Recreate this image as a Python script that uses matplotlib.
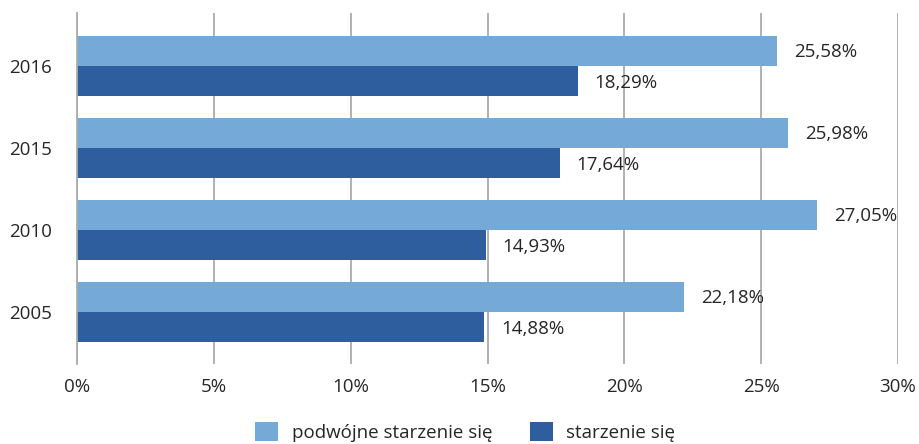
import numpy as np
import matplotlib
matplotlib.use("Agg")
from matplotlib import pyplot as plt

years = ["2005", "2010", "2015", "2016"]
double_ageing = [22.18, 27.05, 25.98, 25.58]
ageing = [14.88, 14.93, 17.64, 18.29]
series_names = ["podwójne starzenie się", "starzenie się"]

light = "#75A9D8"
dark = "#2E5E9E"
grid_c = "#ABABAB"
txt_c = "#262626"
fs = 13.5

plt.rcParams['font.family'] = ['Open Sans', 'DejaVu Sans']

fig = plt.figure(figsize=(9.19, 4.44), dpi=100)
ax = fig.add_axes([77/919, 80/444, 821/919, 351/444])

y = np.arange(len(years))
h = 0.37
b1 = ax.barh(y + h/2, double_ageing, height=h, color=light, label=series_names[0])
b2 = ax.barh(y - h/2, ageing, height=h, color=dark, label=series_names[1])

for bars, vals in ((b1, double_ageing), (b2, ageing)):
    for r, v in zip(bars, vals):
        ax.annotate(f"{v:.2f}%".replace(".", ","), (v, r.get_y() + r.get_height()/2),
                    xytext=(12, -1), textcoords="offset points", va="center", ha="left",
                    fontsize=fs, color=txt_c)

ax.set_xlim(0, 30)
ax.set_ylim(-0.634, 3.646)
ax.set_xticks(range(0, 31, 5))
ax.set_xticklabels([f"{t}%" for t in range(0, 31, 5)])
ax.set_yticks(y)
ax.set_yticklabels(years)
ax.tick_params(axis="both", length=0, labelsize=fs, labelcolor=txt_c)
ax.tick_params(axis="x", pad=10)
ax.tick_params(axis="y", pad=18)
ax.xaxis.grid(True, color=grid_c, linewidth=1.3)
ax.set_axisbelow(True)
for s in ("top", "right", "bottom"):
    ax.spines[s].set_visible(False)
ax.spines["left"].set_color(grid_c)
ax.spines["left"].set_linewidth(1.3)

fig.legend(handles=[b1, b2], loc="center", bbox_to_anchor=(465/919, 1 - 432/444),
           ncol=2, frameon=False, fontsize=fs, handlelength=1.25, handleheight=1.15,
           columnspacing=2.0, handletextpad=0.7, labelcolor=txt_c)

fig.savefig("out.png", dpi=100)
